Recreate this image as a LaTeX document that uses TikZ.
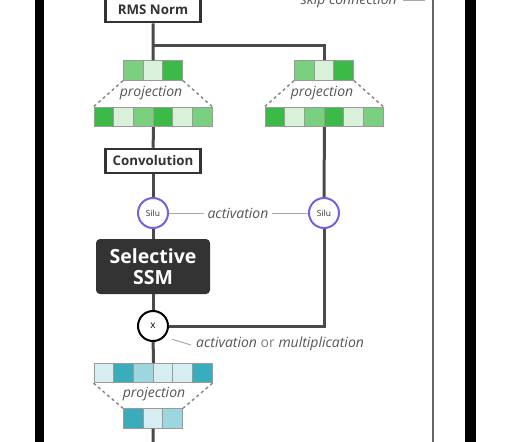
\documentclass[tikz,border=0pt]{standalone}
\usepackage{fontspec}
\setmainfont{Open Sans}
\usetikzlibrary{positioning}

\definecolor{wiregray}{HTML}{4A4A4A}
\definecolor{boxgray}{HTML}{333333}
\definecolor{silupurple}{HTML}{7B5FE3}
\definecolor{cellgray}{HTML}{9A9A9A}
\definecolor{gdark}{HTML}{3CBA48}
\definecolor{gmid}{HTML}{7BD07F}
\definecolor{glight}{HTML}{D8F1D8}
\definecolor{tdark}{HTML}{3AADBD}
\definecolor{tmid}{HTML}{9ED6DF}
\definecolor{tlight}{HTML}{D6EEF2}
\definecolor{hintgray}{HTML}{555555}
\definecolor{fangray}{HTML}{8A8A8A}
\definecolor{ticklight}{HTML}{AAAAAA}
\definecolor{skipgray}{HTML}{666666}

\begin{document}
\begin{tikzpicture}[x=1pt,y=-1pt,
  wire/.style={draw=wiregray,line width=3pt},
  box/.style={draw=boxgray,line width=2.5pt,fill=white,minimum width=95pt,minimum height=24pt,text=boxgray,font=\bfseries\fontsize{13.3}{15}\selectfont},
  ssmbox/.style={fill=boxgray,rounded corners=4pt,minimum width=114pt,minimum height=55pt,align=center,text=white,font=\bfseries\fontsize{19.5}{21}\selectfont},
  silu/.style={circle,draw=silupurple,line width=2pt,fill=white,minimum size=30pt,inner sep=0pt,text=boxgray,font=\fontsize{8.5}{10}\selectfont},
  mulnode/.style={circle,draw=black,line width=2pt,fill=white,minimum size=30pt,inner sep=0pt,font=\fontsize{10}{12}\selectfont},
  cell/.style={draw=cellgray,line width=0.8pt,minimum width=19.7pt,minimum height=19.5pt,inner sep=0pt},
  hint/.style={text=hintgray,inner sep=3pt,font=\itshape\fontsize{14}{16}\selectfont},
  fan/.style={draw=fangray,line width=1.5pt,dash pattern=on 3pt off 3pt},
  tick/.style={draw=ticklight,line width=1pt}]
  \useasboundingbox (0,0) rectangle (531,442);

  % outer bars and skip path
  \fill[black] (35,0) rectangle (44,442);
  \fill[black] (465,0) rectangle (476,442);
  \coordinate (skiptop) at (433,0);
  \coordinate (skipbot) at (433,442);
  \draw[draw=skipgray,line width=2.5pt] (skiptop) -- (skipbot);
  \node[hint,anchor=base east] (skip) at (400,4) {skip connection};
  \draw[tick] ([xshift=3pt]skip.east) -- ++(22,0);

  % blocks
  \node[box] (rms) at (153,10) {RMS Norm};
  \node[box] (conv) at (153,161) {Convolution};
  \node[silu] (silu1) at (153,213) {Silu};
  \node[silu] (silu2) at (324,213) {Silu};
  \node[ssmbox] (ssm) at (153,266.5) {Selective\\SSM};
  \node[mulnode] (mul) at (153,326) {x};

  % projection cells
  \foreach \c [count=\i] in {gmid,glight,gdark}
    \node[cell,fill=\c] (lt\i) at (123.45+\i*19.7-9.85,70.5) {};
  \foreach \c [count=\i] in {gdark,glight,gmid,gdark,glight,gmid}
    \node[cell,fill=\c] (lb\i) at (93.9+\i*19.7-9.85,117) {};
  \foreach \c [count=\i] in {gmid,glight,gdark}
    \node[cell,fill=\c] (rt\i) at (294.45+\i*19.7-9.85,70.5) {};
  \foreach \c [count=\i] in {gdark,glight,gmid,gdark,glight,gmid}
    \node[cell,fill=\c] (rb\i) at (264.9+\i*19.7-9.85,117) {};
  \foreach \c [count=\i] in {tlight,tdark,tmid,tlight,tlight,tdark}
    \node[cell,fill=\c] (tb\i) at (93.9+\i*19.7-9.85,373) {};
  \foreach \c [count=\i] in {tdark,tlight,tmid}
    \node[cell,fill=\c] (ts\i) at (123.45+\i*19.7-9.85,418.5) {};

  \node[hint] (projl) at (151,93) {projection};
  \node[hint] (projr) at (322,93) {projection};
  \node[hint] (projt) at (154,394) {projection};
  \draw[fan] (lt1.south west) -- (lb1.north west);
  \draw[fan] (lt3.south east) -- (lb6.north east);
  \draw[fan] (rt1.south west) -- (rb1.north west);
  \draw[fan] (rt3.south east) -- (rb6.north east);
  \draw[fan] (tb1.south west) -- (ts1.north west);
  \draw[fan] (tb6.south east) -- (ts3.north east);

  % wires
  \coordinate (split) at (153,45);
  \coordinate (out) at (153,442);
  \draw[wire] (rms) -- (lt2);
  \draw[wire] (split) -| (rt2);
  \draw[wire] (lb3.south east) -- (conv);
  \draw[wire] (conv) -- (silu1);
  \draw[wire] (silu1) -- (ssm);
  \draw[wire] (ssm) -- (mul);
  \draw[wire] (mul) -- (tb3.north east);
  \draw[wire] (ts2) -- (out);
  \draw[wire] (rb3.south east) -- (silu2);
  \draw[wire] (silu2) |- (mul);

  % notes
  \node[hint] (act) at (238,213) {activation};
  \draw[tick] (silu1) -- (act);
  \draw[tick] (act) -- (silu2);
  \node[hint,anchor=west] (mulnote) at (193,344) {activation {\upshape\color{hintgray!75}or} multiplication};
  \draw[tick] ([shift={(8,2)}]mul.south east) -- ([shift={(-2,1)}]mulnote.west);
\end{tikzpicture}
\end{document}
